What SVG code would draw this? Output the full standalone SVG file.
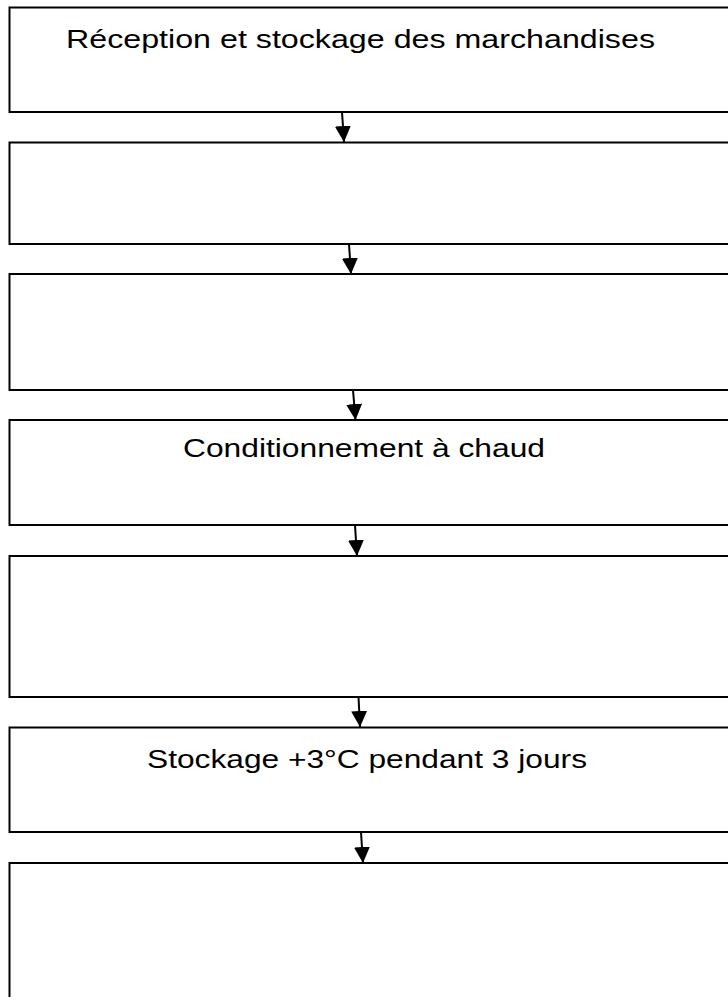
<svg xmlns="http://www.w3.org/2000/svg" width="728" height="997" viewBox="0 0 728 997">
<style>
.box{fill:#fff;stroke:#000;stroke-width:2}
.lbl{font-family:"Liberation Sans",Arial,sans-serif;font-size:26px;fill:#000}
.conn{stroke:#000;stroke-width:2;fill:none}
</style>
<defs>
<marker id="ah" markerWidth="16" markerHeight="16" refX="16" refY="8" orient="auto" markerUnits="userSpaceOnUse">
<path d="M0,0 L16,8 L0,16 Z" fill="#000"/>
</marker>
</defs>
<rect width="728" height="997" fill="#fff"/>
<g id="n1"><rect class="box" x="9.5" y="7.5" width="730" height="104.5"/><text class="lbl" x="66" y="48" textLength="589" lengthAdjust="spacingAndGlyphs">Réception et stockage des marchandises</text></g>
<g id="n2"><rect class="box" x="9.5" y="142.5" width="730" height="101.5"/></g>
<g id="n3"><rect class="box" x="9.5" y="274" width="730" height="116"/></g>
<g id="n4"><rect class="box" x="9.5" y="420" width="730" height="105"/><text class="lbl" x="183" y="457" textLength="362" lengthAdjust="spacingAndGlyphs">Conditionnement à chaud</text></g>
<g id="n5"><rect class="box" x="9.5" y="556" width="730" height="141"/></g>
<g id="n6"><rect class="box" x="9.5" y="727.5" width="730" height="104.5"/><text class="lbl" x="147" y="767.5" textLength="440" lengthAdjust="spacingAndGlyphs">Stockage +3°C pendant 3 jours</text></g>
<g id="n7"><rect class="box" x="9.5" y="863" width="730" height="200"/></g>
<g id="connectors">
<line class="conn" x1="342" y1="112" x2="344" y2="142" marker-end="url(#ah)"/>
<line class="conn" x1="349" y1="244" x2="351" y2="274" marker-end="url(#ah)"/>
<line class="conn" x1="353" y1="390" x2="355.5" y2="420" marker-end="url(#ah)"/>
<line class="conn" x1="355" y1="525" x2="357" y2="556" marker-end="url(#ah)"/>
<line class="conn" x1="358.5" y1="697" x2="360" y2="727" marker-end="url(#ah)"/>
<line class="conn" x1="361" y1="832" x2="363" y2="863" marker-end="url(#ah)"/>
</g>
</svg>
